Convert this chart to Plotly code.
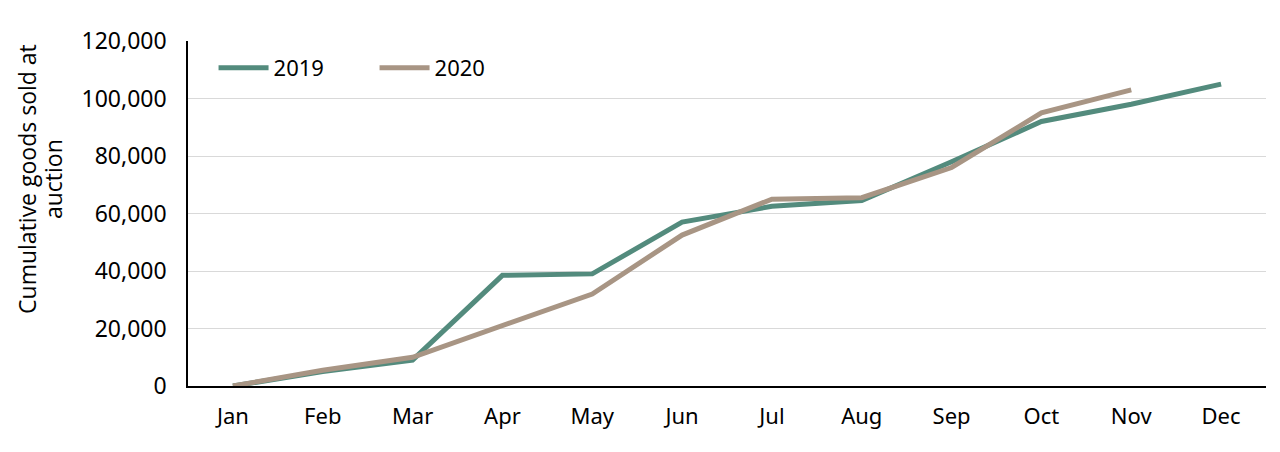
import plotly.graph_objects as go

months = ["Jan", "Feb", "Mar", "Apr", "May", "Jun", "Jul", "Aug", "Sep", "Oct", "Nov", "Dec"]
values_2019 = [0, 5000, 9000, 38500, 39000, 57000, 62500, 64500, 78000, 92000, 98000, 105000]
values_2020 = [0, 5500, 10000, 21000, 32000, 52500, 65000, 65500, 76000, 95000, 103000]
y_ticks = [0, 20000, 40000, 60000, 80000, 100000, 120000]
title_lines = ["Cumulative goods sold at", "auction"]

FONT = "Noto Sans"
TITLE_FONT = "Open Sans"
C2019 = "#538B7D"
C2020 = "#A89584"

fig = go.Figure()
fig.add_trace(go.Scatter(x=months, y=values_2019, mode="lines", name="2019",
                         line=dict(color=C2019, width=5)))
fig.add_trace(go.Scatter(x=months[:len(values_2020)], y=values_2020, mode="lines", name="2020",
                         line=dict(color=C2020, width=5)))

fig.update_layout(
    width=1264, height=436,
    margin=dict(l=180, r=6, t=33, b=58),
    paper_bgcolor="white", plot_bgcolor="white",
    font=dict(family=FONT, size=23, color="black"),
    showlegend=True,
    legend=dict(orientation="h", x=0.0237, y=0.922, xanchor="left", yanchor="middle",
                bgcolor="rgba(0,0,0,0)", font=dict(size=22), entrywidth=96, entrywidthmode="pixels",
                itemwidth=50),
    xaxis=dict(type="category", categoryorder="array", categoryarray=months,
               range=[-0.5, 11.5], showgrid=False, showline=True, linecolor="black", linewidth=1.5,
               ticks="", ticklabelstandoff=10, tickfont=dict(size=22), zeroline=False),
    yaxis=dict(range=[0, 120000], tickvals=y_ticks, ticktext=[f"{v:,}" for v in y_ticks],
               showgrid=True, gridcolor="#D9D9D9", gridwidth=1, showline=True, linecolor="black",
               linewidth=1.5, ticks="", ticklabelstandoff=15, tickfont=dict(size=23), zeroline=False),
    annotations=[
        dict(text=title_lines[0], textangle=-90, xref="paper", yref="paper",
             x=-0.1494, y=0.6, xanchor="center", yanchor="middle", showarrow=False,
             font=dict(size=23, family=TITLE_FONT)),
        dict(text=title_lines[1], textangle=-90, xref="paper", yref="paper",
             x=-0.1252, y=0.6, xanchor="center", yanchor="middle", showarrow=False,
             font=dict(size=23, family=TITLE_FONT)),
    ],
)

fig.write_html("out.html")
